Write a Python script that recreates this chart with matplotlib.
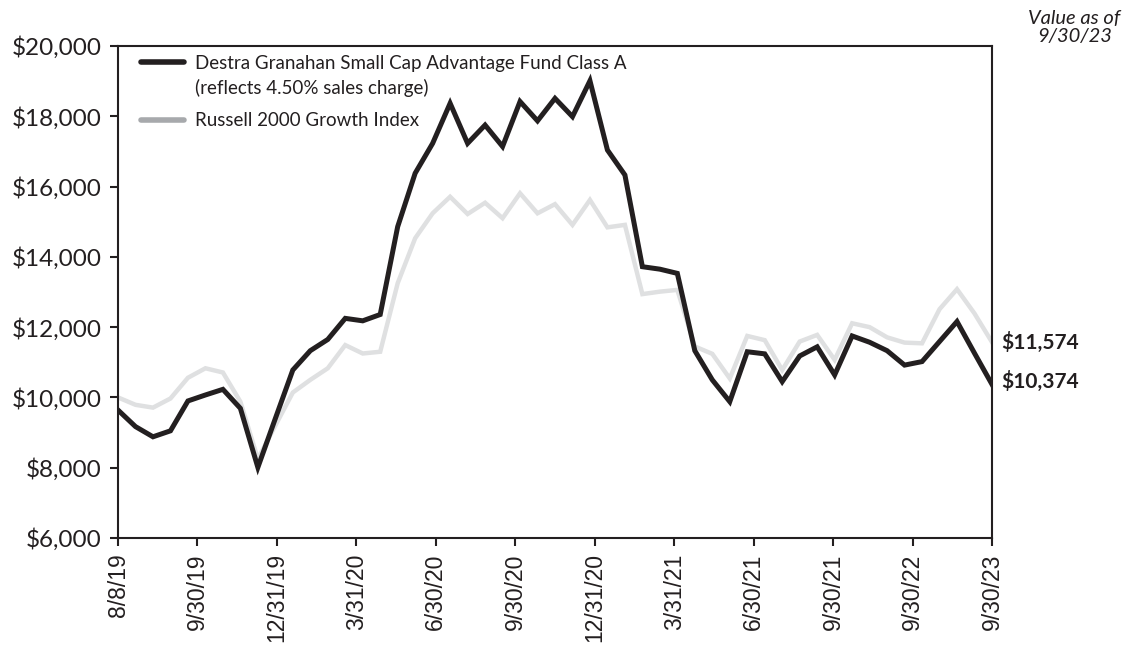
import matplotlib
matplotlib.use('Agg')
import matplotlib.pyplot as plt
from matplotlib.lines import Line2D
from matplotlib.ticker import FuncFormatter
import numpy as np

# monthly values, 8/8/19 .. 9/30/23 (51 points)
fund = [9640, 9170, 8880, 9050, 9900, 10070, 10230, 9690, 8010, 9400,
        10780, 11330, 11650, 12250, 12180, 12360, 14860, 16380, 17230, 18370,
        17230, 17750, 17140, 18420, 17870, 18510, 17990, 19010, 17040, 16330,
        13720, 13650, 13530, 11330, 10500, 9880, 11300, 11240, 10450, 11180,
        11440, 10640, 11750, 11570, 11330, 10920, 11020, 11590, 12160, 11260,
        10374]
russell = [10000, 9790, 9710, 9970, 10560, 10830, 10710, 9880, 8250, 9200,
           10140, 10500, 10830, 11490, 11250, 11300, 13250, 14530, 15240, 15710,
           15220, 15540, 15100, 15810, 15240, 15500, 14910, 15620, 14840, 14910,
           12940, 13010, 13060, 11450, 11240, 10540, 11750, 11630, 10780, 11590,
           11780, 11070, 12110, 12000, 11710, 11560, 11540, 12510, 13080, 12390,
           11574]
tick_labels = ['8/8/19', '9/30/19', '12/31/19', '3/31/20', '6/30/20', '9/30/20',
               '12/31/20', '3/31/21', '6/30/21', '9/30/21', '9/30/22', '9/30/23']

fund_name = 'Destra Granahan Small Cap Advantage Fund Class A'
fund_note = '(reflects 4.50% sales charge)'
index_name = 'Russell 2000 Growth Index'

black = '#231f20'
light = '#dfe0e1'

fig = plt.figure(figsize=(11.36, 6.62), dpi=100)
ax = fig.add_axes([0.1039, 0.1873, 0.7693, 0.7432])

x = np.arange(len(fund))
ax.plot(x, russell, color=light, lw=3.2, solid_joinstyle='miter', zorder=2)
ax.plot(x, fund, color=black, lw=3.6, solid_joinstyle='miter', zorder=3)

ax.set_xlim(0, len(fund) - 1)
ax.set_ylim(6000, 20000)
ax.set_yticks(np.arange(6000, 20001, 2000))
ax.yaxis.set_major_formatter(FuncFormatter(lambda v, p: '${:,.0f}'.format(v)))
ax.set_xticks(np.linspace(0, len(fund) - 1, len(tick_labels)))
ax.set_xticklabels(tick_labels, rotation=90, fontsize=16.5, family='Liberation Sans')
for t in ax.get_yticklabels():
    t.set_family('Lato')
    t.set_fontsize(17.5)

for s in ax.spines.values():
    s.set_linewidth(1.5)
    s.set_color(black)
ax.tick_params(axis='both', direction='out', length=6, width=1.5, color=black,
               labelcolor=black)
ax.tick_params(axis='x', pad=5)
ax.tick_params(axis='y', pad=6)

# legend: fund entry (two text lines) and index entry as separate legends
leg_font = {'family': 'Lato', 'size': 13.5}
leg1 = ax.legend([Line2D([], [], color=black, lw=4, solid_capstyle='round'),
                  Line2D([], [], color='none')],
                 [fund_name, fund_note], loc='center left', frameon=False,
                 prop=leg_font, handlelength=2.3, handletextpad=0.6,
                 labelspacing=0.42, borderpad=0, borderaxespad=0,
                 bbox_to_anchor=(0.026, 0.939))
ax.add_artist(leg1)
leg2 = ax.legend([Line2D([], [], color='#a7a9ac', lw=4, solid_capstyle='round')],
                 [index_name], loc='center left', frameon=False,
                 prop=leg_font, handlelength=2.3, handletextpad=0.6,
                 borderpad=0, borderaxespad=0,
                 bbox_to_anchor=(0.026, 0.8476))
for lg in (leg1, leg2):
    for t in lg.get_texts():
        t.set_color(black)

ax.annotate('${:,.0f}'.format(russell[-1]), xy=(x[-1], russell[-1]),
            xytext=(7, 0), textcoords='offset points', va='center', ha='left',
            fontsize=15, fontweight='bold', family='Lato', color=black,
            annotation_clip=False)
ax.annotate('${:,.0f}'.format(fund[-1]), xy=(x[-1], fund[-1]),
            xytext=(7, 2), textcoords='offset points', va='center', ha='left',
            fontsize=15, fontweight='bold', family='Lato', color=black,
            annotation_clip=False)
fig.text(0.946, 0.985, 'Value as of\n9/30/23', ha='center', va='top',
         fontsize=14.5, style='italic', family='Lato', color=black,
         linespacing=1.05)

fig.savefig('out.png', dpi=100)
